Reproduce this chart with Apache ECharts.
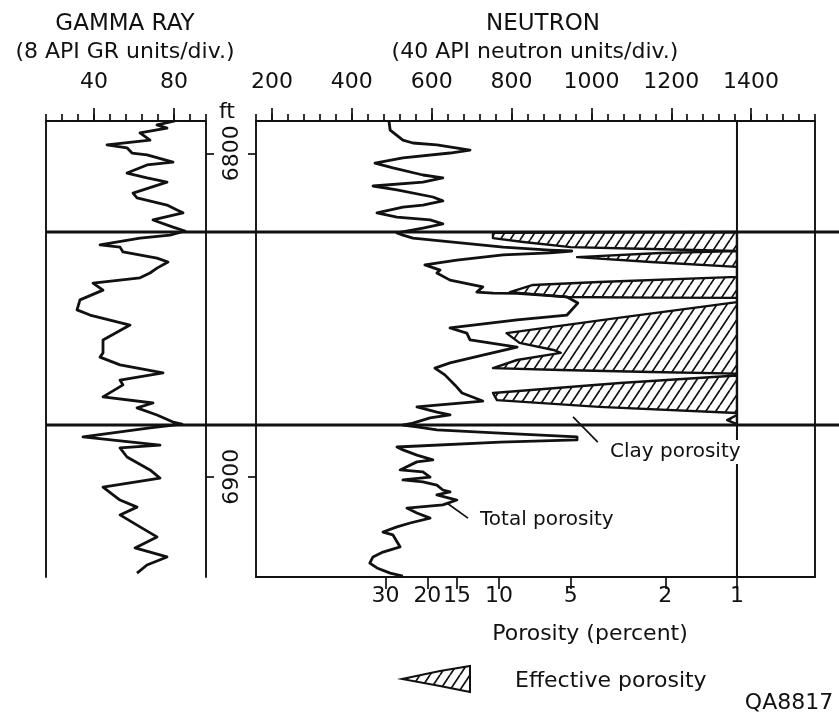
<!DOCTYPE html>
<html>
<head>
<meta charset="utf-8">
<script src="https://cdn.jsdelivr.net/npm/echarts@6.0.0/dist/echarts.min.js"></script>
<style>
  html, body { margin: 0; padding: 0; background: #fff; }
  #chart { width: 839px; height: 714px; }
</style>
</head>
<body>
<div id="chart"></div>
<script>
// gamma ray log (depth ft, API GR units)
const grDepth = [6790, 6791.2, 6792.2, 6793.7, 6795.9, 6797.4, 6798.3, 6799.9, 6800.5, 6802.7, 6803.6, 6806.1, 6807.6, 6808.9,
  6812.3, 6813.8, 6816.0, 6817.5, 6818.4, 6820.6, 6822.8, 6824.0, 6825.3, 6826.2, 6828.3, 6829.0, 6830.5, 6832.4, 6833.6,
  6835.5, 6837.0, 6838.5, 6840.1, 6842.3, 6845.3, 6848.4, 6850.0, 6853.1, 6857.7, 6861.7, 6863.0, 6865.4, 6867.9, 6870.1,
  6871.6, 6875.3, 6877.2, 6878.7, 6880.9, 6883.1, 6883.7, 6884.9, 6887.7, 6890.2, 6891.1, 6893.9, 6897.9, 6900.4, 6903.2,
  6907.2, 6909.4, 6911.8, 6915.5, 6918.6, 6922.0, 6924.8, 6927.3, 6929.8];
const grValue = [80.5, 71.5, 76.5, 63, 68, 46.5, 56.5, 59, 66.5, 79.5, 66.5, 56.5, 66.5, 76.5,
  59.5, 61.5, 76.5, 81.5, 84.5, 69.5, 79.5, 85.5, 78, 63, 43, 53, 54.5, 71.5, 77,
  71.5, 68, 63, 39.5, 44.5, 33, 31.5, 38, 58, 44.5, 44.5, 43, 53, 74.5, 53,
  54.5, 44.5, 69.5, 61.5, 71.5, 79.5, 84, 68, 34.5, 73, 53, 56.5, 68, 73, 44.5,
  53, 61.5, 53, 63, 71.5, 60.5, 76.5, 66.5, 61.5];

// neutron log (depth ft, API neutron units) = total porosity
const nDepth = [6790, 6792.8, 6795.9, 6796.8, 6797.4, 6799.0, 6799.9, 6801.4, 6803.0, 6804.5, 6806.7, 6807.6, 6808.9, 6810.1,
  6811.3, 6813.5, 6814.7, 6816.0, 6816.6, 6818.4, 6819.7, 6820.6, 6821.8, 6823.1, 6824.6, 6825.3, 6826.2, 6829.0, 6829.9,
  6830.2, 6830.8, 6831.4, 6833.0, 6834.5, 6836.1, 6837.0, 6839.2, 6841.3, 6842.9, 6843.2, 6843.3, 6844.4, 6846.3, 6850.0,
  6851.5, 6854.0, 6855.6, 6857.7, 6859.9, 6862.4, 6864.8, 6866.4, 6868.5, 6871.6, 6874.1, 6876.6, 6878.4, 6880.0, 6880.9,
  6881.8, 6883.4, 6884.0, 6884.6, 6885.5, 6886.5, 6887.7, 6888.6, 6889.3, 6890.8, 6891.7, 6893.3, 6894.8, 6895.4, 6897.9,
  6898.5, 6900.1, 6901.0, 6901.6, 6902.6, 6904.1, 6904.7, 6905.6, 6907.2, 6908.7, 6909.7, 6911.2, 6912.8, 6914.3, 6915.5,
  6917.1, 6918.0, 6921.7, 6923.3, 6924.8, 6926.7, 6928.2, 6929.8, 6930.7];
const nValue = [493, 496, 528, 553, 613, 696, 646, 528, 458, 503, 578, 628, 578, 453,
  513, 603, 628, 578, 528, 463, 513, 596, 628, 578, 513, 528, 553, 779, 896,
  951, 896, 779, 663, 583, 621, 613, 646, 728, 713, 754, 814, 939, 966, 939,
  814, 646, 688, 696, 814, 728, 646, 608, 633, 658, 676, 728, 563, 613, 646,
  596, 553, 528, 563, 613, 771, 964, 964, 771, 513, 528, 563, 603, 563, 521,
  578, 596, 528, 578, 613, 628, 646, 613, 663, 628, 538, 563, 596, 546, 513,
  478, 503, 521, 478, 453, 445, 463, 496, 528];

// effective porosity edge (depth ft, porosity %), hatched out to the 1 % line
const effDepth = [6824.3, 6824.6, 6826.2, 6827.4, 6829.0, 6829.6, 6830.2, 6830.8, 6832.1, 6833.6, 6835.1, 6838.2, 6839.8,
  6840.7, 6842.9, 6844.4, 6844.6, 6844.7, 6846.0, 6850.8, 6855.6, 6858.6, 6860.8, 6861.7, 6863.9, 6866.4, 6867.0, 6867.6,
  6868.1, 6868.7, 6871.0, 6874.1, 6876.3, 6878.4, 6880.3, 6880.9, 6882.5, 6883.7];
const effPorosity = [1, 10.6, 10.6, 7.9, 5.0, 2.3, 1, 2.1, 4.7, 2.3, 1, 1, 3.8,
  7.2, 9.0, 5.2, 2.3, 1, 1, 3.1, 9.3, 8.2, 5.9, 5.5, 8.4, 10.6, 5.5, 2.3,
  1, 1, 3.1, 10.6, 10.2, 3.8, 1, 1, 1.1, 1];

const grLabels = [40, 80];
const neutronLabels = [200, 400, 600, 800, 1000, 1200, 1400];
const porosityLabels = [30, 20, 15, 10, 5, 2, 1];
const depthLabels = [6800, 6900];
const zoneTops = [6824.3, 6884.0];

const INK = '#111';
const FONT = '"DejaVu Sans", sans-serif';

function hatch(w, h, lw) {
  const c = document.createElement('canvas');
  c.width = w; c.height = h;
  const g = c.getContext('2d');
  g.strokeStyle = INK; g.lineWidth = lw;
  g.beginPath();
  for (const o of [-w, 0, w]) { g.moveTo(o, h); g.lineTo(o + w, 0); }
  g.stroke();
  return c;
}
const hatchFill = { image: hatch(10, 15, 1.7), repeat: 'repeat' };

const axLine = { show: true, onZero: false, lineStyle: { color: INK, width: 1.9 } };
const tickStyle = { color: INK, width: 1.7 };
const labelStyle = { color: INK, fontSize: 22, fontFamily: FONT, formatter: v => String(v) };

const depthAxis = {
  type: 'value', inverse: true, min: 6790, max: 6931,
  axisLine: axLine, axisTick: { show: false }, axisLabel: { show: false }, splitLine: { show: false }
};

const chart = echarts.init(document.getElementById('chart'));

const option = {
  animation: false,
  backgroundColor: '#fff',
  textStyle: { fontFamily: FONT, color: INK },
  grid: [
    { left: 46, top: 121, width: 160, height: 456 },
    { left: 256, top: 121, width: 559, height: 456 }
  ],
  xAxis: [
    { gridIndex: 0, type: 'value', position: 'top', min: 16, max: 96, interval: 8,
      axisLine: axLine, axisTick: { length: 7, lineStyle: tickStyle },
      axisLabel: { show: false }, splitLine: { show: false } },
    { gridIndex: 0, type: 'value', position: 'top', min: 16, max: 96,
      axisLine: { show: false, onZero: false },
      axisTick: { length: 13, customValues: grLabels, lineStyle: tickStyle },
      axisLabel: Object.assign({ customValues: grLabels, margin: 28 }, labelStyle), splitLine: { show: false } },
    { gridIndex: 1, type: 'value', position: 'top', min: 160, max: 1560, interval: 40,
      axisLine: axLine, axisTick: { length: 7, lineStyle: tickStyle },
      axisLabel: { show: false }, splitLine: { show: false } },
    { gridIndex: 1, type: 'value', position: 'top', min: 160, max: 1560,
      axisLine: { show: false, onZero: false },
      axisTick: { length: 13, customValues: neutronLabels, lineStyle: tickStyle },
      axisLabel: Object.assign({ customValues: neutronLabels, margin: 28 }, labelStyle), splitLine: { show: false } },
    { gridIndex: 1, type: 'log', position: 'bottom', inverse: true, min: 0.47, max: 105,
      axisLine: axLine,
      axisTick: { length: 12, customValues: porosityLabels, lineStyle: tickStyle },
      axisLabel: Object.assign({ customValues: porosityLabels, margin: 8 }, labelStyle),
      splitLine: { show: false }, minorTick: { show: false } }
  ],
  yAxis: [
    Object.assign({}, depthAxis, { gridIndex: 0, position: 'left' }),
    Object.assign({}, depthAxis, { gridIndex: 0, position: 'right',
      axisTick: { show: true, length: 8, customValues: depthLabels, lineStyle: tickStyle } }),
    Object.assign({}, depthAxis, { gridIndex: 1, position: 'left',
      axisTick: { show: true, length: 8, customValues: depthLabels, lineStyle: tickStyle },
      axisLabel: Object.assign({ show: true, customValues: depthLabels, rotate: 90, margin: 13 }, labelStyle) }),
    Object.assign({}, depthAxis, { gridIndex: 1, position: 'right' })
  ],
  series: [
    { name: 'Gamma ray', type: 'line', xAxisIndex: 0, yAxisIndex: 0, silent: true,
      symbol: 'none', lineStyle: { color: INK, width: 2.8, join: 'round' },
      data: grDepth.map((d, i) => [grValue[i], d]) },
    { name: 'Effective porosity', type: 'custom', xAxisIndex: 4, yAxisIndex: 2, silent: true,
      data: effDepth.map((d, i) => [effPorosity[i], d]),
      renderItem: (params, api) => {
        if (params.dataIndex !== 0) return null;
        const pts = effDepth.map((d, i) => api.coord([effPorosity[i], d]));
        return { type: 'polygon', shape: { points: pts },
          style: { fill: hatchFill, stroke: INK, lineWidth: 2.4, lineJoin: 'round' } };
      } },
    { name: 'Neutron', type: 'line', xAxisIndex: 2, yAxisIndex: 2, silent: true,
      symbol: 'none', lineStyle: { color: INK, width: 2.8, join: 'round' },
      data: nDepth.map((d, i) => [nValue[i], d]) }
  ]
};
chart.setOption(option);

// annotation lines placed through the axes
const yPx = d => chart.convertToPixel({ yAxisIndex: 2 }, d);
const nPx = v => chart.convertToPixel({ xAxisIndex: 2 }, v);
const pPx = p => chart.convertToPixel({ xAxisIndex: 4 }, p);
const grLeft = chart.convertToPixel({ xAxisIndex: 0 }, 16);
const W = chart.getWidth();

const leaders = [
  [[638, 6908.1], [691, 6912.8]],
  [[954, 6881.5], [1016, 6889.3]]
];

function text(str, x, y, size, align) {
  return { type: 'text', x: x, y: y, z: 10,
    style: { text: str, font: size + 'px ' + FONT, fill: INK, align: align || 'center', verticalAlign: 'middle' } };
}

const graphic = [];
zoneTops.forEach(d => graphic.push({ type: 'line', z: 5,
  shape: { x1: grLeft, y1: yPx(d), x2: W, y2: yPx(d) }, style: { stroke: INK, lineWidth: 3 } }));
graphic.push({ type: 'line', z: 5,
  shape: { x1: pPx(1), y1: yPx(6790), x2: pPx(1), y2: yPx(6931) }, style: { stroke: INK, lineWidth: 2 } });
leaders.forEach(l => graphic.push({ type: 'line', z: 5,
  shape: { x1: nPx(l[0][0]), y1: yPx(l[0][1]), x2: nPx(l[1][0]), y2: yPx(l[1][1]) },
  style: { stroke: INK, lineWidth: 1.7 } }));

graphic.push(
  text('GAMMA RAY', 125, 24, 23),
  text('(8 API GR units/div.)', 125, 52, 22),
  text('NEUTRON', 543, 24, 23),
  text('(40 API neutron units/div.)', 535, 52, 22),
  text('ft', 227, 112, 22),
  text('Total porosity', 480, 520, 20, 'left'),
  { type: 'text', x: 610, y: 452, z: 10,
    style: { text: 'Clay porosity', font: '20px ' + FONT, fill: INK, align: 'left', verticalAlign: 'middle',
      backgroundColor: '#fff', padding: [2, 0] } },
  text('Porosity (percent)', 590, 634, 22),
  { type: 'polygon', z: 10,
    shape: { points: [[402, 679], [440, 671], [470, 666], [470, 692], [440, 686]] },
    style: { fill: hatchFill, stroke: INK, lineWidth: 2 } },
  text('Effective porosity', 515, 681, 22, 'left'),
  text('QA8817', 789, 703, 22)
);

chart.setOption({ graphic: graphic });
</script>
</body>
</html>
